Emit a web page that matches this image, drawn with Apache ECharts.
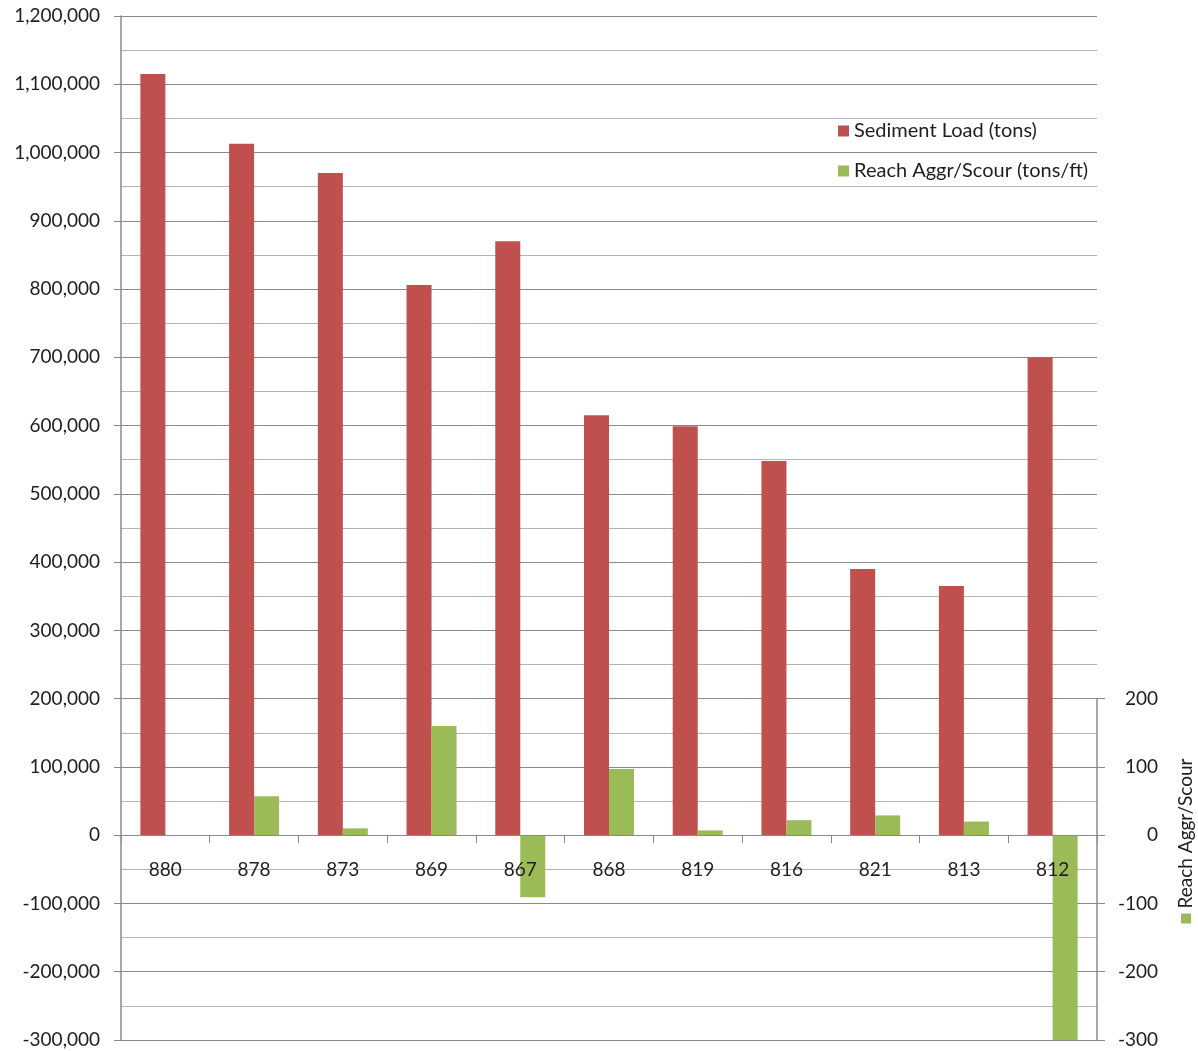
<!DOCTYPE html>
<html>
<head>
<meta charset="utf-8">
<title>Sediment Load and Reach Aggradation/Scour</title>
<script src="https://cdn.jsdelivr.net/npm/echarts@6/dist/echarts.min.js"></script>
<style>
  html, body { margin: 0; padding: 0; background: #ffffff; }
  #chart { width: 1198px; height: 1051px; }
</style>
</head>
<body>
<div id="chart"></div>
<script>
// Cross sections, upstream to downstream
const stations = ['880', '878', '873', '869', '867', '868', '819', '816', '821', '813', '812'];

// Sediment load passing each section (tons)
const sedimentLoad = [1115000, 1013000, 970000, 806000, 870000, 615000, 599000, 548000, 390000, 365000, 700000];

// Reach aggradation (+) / scour (-) (tons/ft)
const aggrScour = [0, 57, 10, 160, -91, 97, 7, 22, 29, 20, -300];

// Axis ranges
const loadMin = -300000, loadMax = 1200000, loadStep = 100000;
const aggrMin = -300, aggrMax = 1200, aggrShownMax = 200, aggrStep = 100;

const RED = '#C0504D';
const GREEN = '#9BBB59';
const MAJOR = '#8a8a8a';
const MINOR = '#b4b4b4';
const TEXT = '#1e1e1e';
const FONT = 'Lato, "Open Sans", sans-serif';

// Plot rectangle
const chartW = 1198, chartH = 1051;
const plotLeft = 121, plotRightEdge = 1097, plotTop = 16, plotHeight = 1024;
const plotRight = chartW - plotRightEdge;
const plotBottom = chartH - plotTop - plotHeight;
const pxOf = (v, lo, hi) => plotTop + plotHeight * (hi - v) / (hi - lo);
// Where the right-hand scale's visible part begins (value 200)
const aggrTopPx = pxOf(aggrShownMax, aggrMin, aggrMax);
// Zero line, where the station labels hang
const zeroPx = pxOf(0, loadMin, loadMax);

const fmt = v => v.toLocaleString('en-US');

const chart = echarts.init(document.getElementById('chart'), null, { renderer: 'canvas' });

chart.setOption({
  animation: false,
  backgroundColor: '#ffffff',
  textStyle: { fontFamily: FONT },
  grid: [
    // main plot
    { left: plotLeft, right: plotRight, top: plotTop, height: plotHeight, outerBoundsMode: 'none' },
    // visible band of the right-hand scale
    { left: plotLeft, right: plotRight, top: aggrTopPx, bottom: plotBottom, outerBoundsMode: 'none' },
    // band above the zero line, carrying the station axis
    { left: plotLeft, right: plotRight, top: plotTop, height: zeroPx - plotTop, outerBoundsMode: 'none' }
  ],
  legend: {
    orient: 'vertical',
    left: 833,
    top: 116,
    itemWidth: 11,
    itemHeight: 11,
    itemGap: 20,
    icon: 'rect',
    textStyle: { color: TEXT, fontSize: 20, fontFamily: FONT, lineHeight: 20 },
    data: ['Sediment Load (tons)', 'Reach Aggr/Scour (tons/ft)']
  },
  xAxis: [
    {
      type: 'category',
      gridIndex: 0,
      data: stations,
      axisLine: { show: false },
      axisTick: { show: false },
      axisLabel: { show: false },
      splitLine: { show: false }
    },
    {
      type: 'category',
      gridIndex: 1,
      data: stations,
      show: false
    },
    {
      // station axis along the zero line, drawn above the bars
      type: 'category',
      gridIndex: 2,
      position: 'bottom',
      z: 10,
      data: stations,
      axisLine: { show: true, onZero: false, lineStyle: { color: MAJOR, width: 1 } },
      axisTick: { show: true, length: 8, lineStyle: { color: MAJOR } },
      axisLabel: { color: TEXT, fontSize: 19, fontFamily: FONT, margin: 25 },
      splitLine: { show: false }
    }
  ],
  yAxis: [
    {
      type: 'value',
      gridIndex: 0,
      position: 'left',
      min: loadMin,
      max: loadMax,
      interval: loadStep,
      axisLine: { show: true, lineStyle: { color: MAJOR, width: 1.5 } },
      axisTick: { show: true, length: 7, lineStyle: { color: MAJOR } },
      axisLabel: { color: TEXT, fontSize: 19, fontFamily: FONT, margin: 21, formatter: fmt },
      splitLine: { show: true, lineStyle: { color: MAJOR, width: 1.2 } },
      minorTick: { show: false, splitNumber: 2 },
      minorSplitLine: { show: true, lineStyle: { color: MINOR, width: 1 } }
    },
    {
      // Scale used by the aggradation/scour bars (shares the zero line)
      type: 'value',
      gridIndex: 0,
      position: 'right',
      min: aggrMin,
      max: aggrMax,
      interval: aggrStep,
      axisLine: { show: false },
      axisTick: { show: false },
      axisLabel: { show: false },
      splitLine: { show: false }
    },
    {
      // Visible part of the right-hand scale, -300 to 200
      type: 'value',
      gridIndex: 1,
      position: 'right',
      min: aggrMin,
      max: aggrShownMax,
      interval: aggrStep,
      axisLine: { show: true, lineStyle: { color: MAJOR, width: 1.5 } },
      axisTick: { show: true, length: 8, lineStyle: { color: MAJOR } },
      axisLabel: { color: TEXT, fontSize: 19, fontFamily: FONT, margin: 61, align: 'right' },
      splitLine: { show: false }
    },
    {
      type: 'value',
      gridIndex: 2,
      show: false
    }
  ],
  graphic: [
    {
      type: 'text',
      x: 1186,
      y: 841,
      rotation: Math.PI / 2,
      style: {
        text: '{sq|}{t|Reach Aggr/Scour}',
        align: 'center',
        verticalAlign: 'middle',
        rich: {
          sq: { width: 10, height: 10, backgroundColor: GREEN },
          t: { fontSize: 19, fontFamily: FONT, fill: TEXT, padding: [0, 0, 0, 5] }
        }
      }
    }
  ],
  series: [
    {
      name: 'Sediment Load (tons)',
      type: 'bar',
      xAxisIndex: 0,
      yAxisIndex: 0,
      data: sedimentLoad,
      barWidth: 25,
      barGap: '0%',
      itemStyle: { color: RED }
    },
    {
      name: 'Reach Aggr/Scour (tons/ft)',
      type: 'bar',
      xAxisIndex: 0,
      yAxisIndex: 1,
      data: aggrScour,
      barWidth: 25,
      barGap: '0%',
      itemStyle: { color: GREEN }
    }
  ]
});
</script>
</body>
</html>
